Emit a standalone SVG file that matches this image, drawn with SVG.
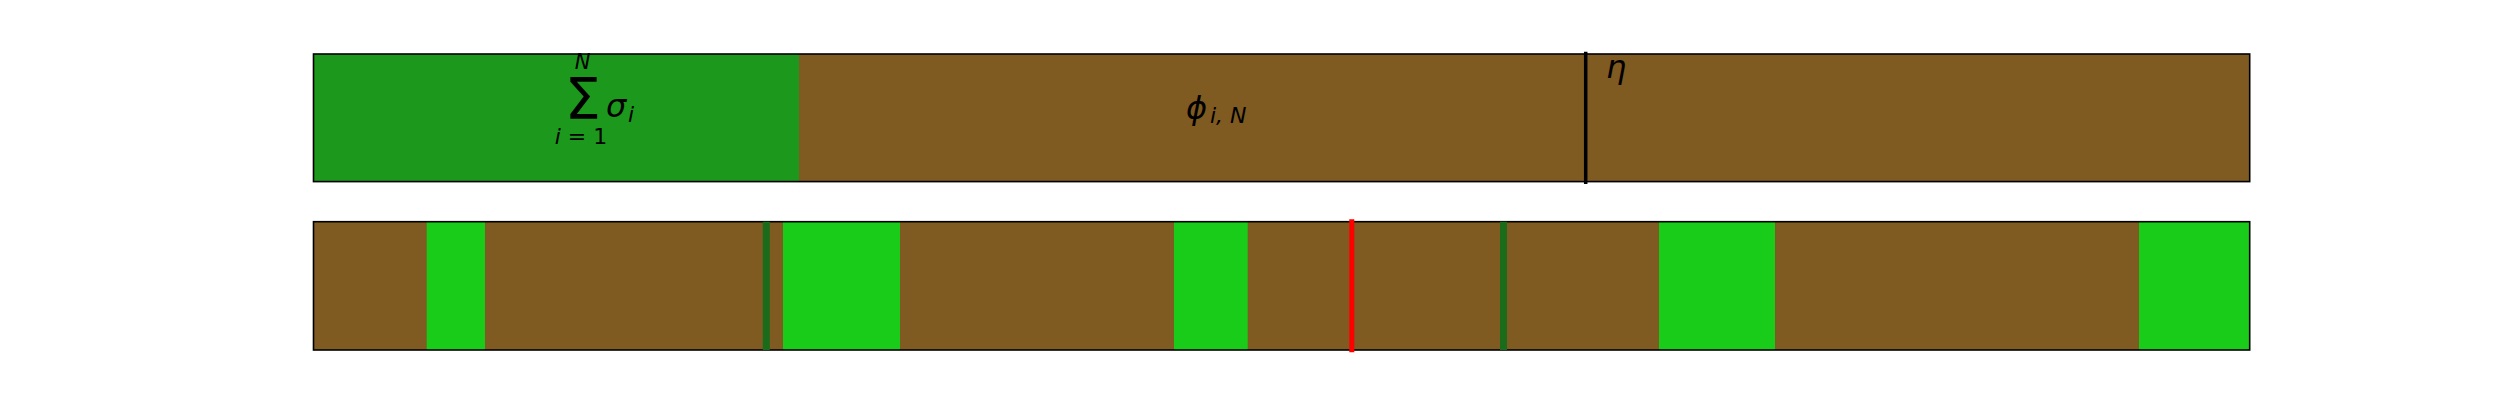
<svg xmlns="http://www.w3.org/2000/svg" width="2500" height="400" viewBox="0 0 2500 400">
  <style>
    .brown { fill: #7f5a21; }
    .tgreen { fill: #1c981c; }
    .bgreen { fill: #19cc19; }
    .frame { fill: none; stroke: #000; stroke-width: 1.6; }
    .m { font-family: "DejaVu Sans", sans-serif; fill: #000; }
    .it { font-style: italic; }
  </style>
  <rect x="0" y="0" width="2500" height="400" fill="#fff"/>
  <g id="top-bar">
    <rect class="brown" x="313.5" y="54" width="1936.2" height="127.6"/>
    <rect class="tgreen" x="313.5" y="54" width="485.5" height="127.6"/>
    <rect class="frame" x="313.5" y="54" width="1936.2" height="127.6"/>
  </g>
  <g id="sum-label">
    <text class="m it" x="582.5" y="69" font-size="21" text-anchor="middle">N</text>
    <text class="m" x="582.7" y="119" font-size="57" text-anchor="middle">Σ</text>
    <text class="m" x="581" y="144" font-size="22" text-anchor="middle"><tspan class="it">i</tspan> = 1</text>
    <text class="m it" x="606" y="117" font-size="32">σ</text>
    <text class="m it" x="628" y="121.7" font-size="22">i</text>
  </g>
  <g id="phi-label">
    <text class="m it" x="1186" y="118.5" font-size="32">ϕ</text>
    <text class="m it" x="1210" y="123" font-size="22">i, N</text>
  </g>
  <g id="eta-label">
    <text class="m it" x="1606" y="78" font-size="32">η</text>
  </g>
  <g id="bottom-bar">
    <rect class="brown" x="313.5" y="221.7" width="1936.2" height="128.3"/>
    <rect class="bgreen" x="426.7" y="221.7" width="58.3" height="128.3"/>
    <rect class="bgreen" x="783" y="221.7" width="117" height="128.3"/>
    <rect class="bgreen" x="1174" y="221.7" width="73.7" height="128.3"/>
    <rect class="bgreen" x="1659" y="221.7" width="116" height="128.3"/>
    <rect class="bgreen" x="2139" y="221.7" width="110.7" height="128.3"/>
    <rect class="frame" x="313.5" y="221.7" width="1936.2" height="128.3"/>
  </g>
  <g id="connectors">
    <line x1="1585.7" y1="51.7" x2="1585.7" y2="184" stroke="#000" stroke-width="3.5"/>
    <line x1="766.3" y1="221.7" x2="766.3" y2="350" stroke="#1a6b1a" stroke-width="7"/>
    <line x1="1503.5" y1="221.7" x2="1503.5" y2="350" stroke="#1a6b1a" stroke-width="7"/>
    <line x1="1351.8" y1="219.3" x2="1351.8" y2="352.3" stroke="#ff0000" stroke-width="5"/>
  </g>
</svg>
